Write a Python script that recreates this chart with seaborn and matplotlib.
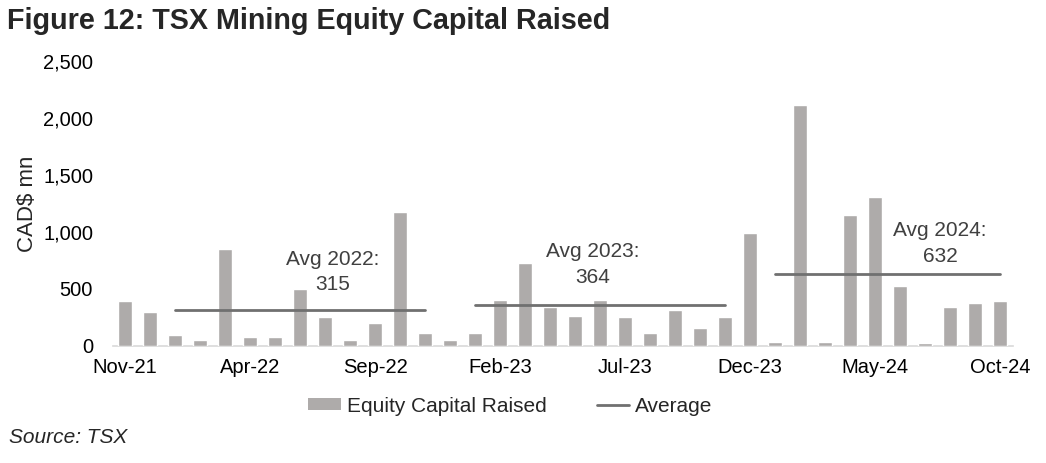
import pandas as pd
import matplotlib.pyplot as plt
import seaborn as sns
from matplotlib.patches import Patch
from matplotlib.lines import Line2D

# monthly equity capital raised, CAD$ mn (Nov-21 .. Oct-24)
months = pd.date_range('2021-11-01', '2024-10-01', freq='MS').strftime('%b-%y').tolist()
capital = [395, 298, 94, 50, 854, 82, 82, 497, 252, 50, 205, 1179,
           111, 50, 111, 407, 732, 346, 267, 407, 252, 111, 313, 158,
           252, 995, 32, 2111, 32, 1149, 1304, 530, 24, 346, 374, 392]

# yearly averages
avg_labels = ['Avg 2022:\n315', 'Avg 2023:\n364', 'Avg 2024:\n632']
avg_values = [315, 364, 632]
avg_start = ['Jan-22', 'Jan-23', 'Jan-24']
avg_end = ['Nov-22', 'Nov-23', 'Oct-24']

tick_labels = months[::5]

bar_color = '#AEABAA'
line_color = '#707070'

sns.set_style('white')
plt.rcParams['font.family'] = ['Liberation Sans', 'DejaVu Sans']

fig = plt.figure(figsize=(10.46, 4.63), dpi=100)
ax = fig.add_axes([0.1076, 0.2527, 0.8604, 0.6156])

df = pd.DataFrame({'month': months, 'capital': capital})
sns.barplot(data=df, x='month', y='capital', color=bar_color, saturation=1,
            width=0.56, errorbar=None, ax=ax, zorder=3)

# average lines, drawn on the category positions
text_pos = [(8.3, 650), (18.7, 715), (32.6, 900)]
for lab, val, s, e, (tx, ty) in zip(avg_labels, avg_values, avg_start, avg_end, text_pos):
    i0, i1 = months.index(s), months.index(e)
    ax.plot([i0, i1], [val, val], color=line_color, lw=2, zorder=4)
    ax.text(tx, ty, lab, ha='center', va='center', fontsize=15,
            color='#404040', linespacing=1.45)

ax.set_xlim(-0.5, len(months) - 0.5)
ax.set_ylim(0, 2500)
ax.set_yticks(range(0, 2501, 500))
ax.set_yticklabels([f'{v:,}' for v in range(0, 2501, 500)])
ax.set_xticks([months.index(m) for m in tick_labels])
ax.set_xticklabels(tick_labels)
ax.tick_params(axis='both', length=0, labelsize=14.5, colors='black')
ax.tick_params(axis='x', pad=9)
ax.tick_params(axis='y', pad=14)
ax.set_xlabel('')
ax.set_ylabel('CAD$ mn', fontsize=16, labelpad=4)

for side in ['top', 'right', 'left']:
    ax.spines[side].set_visible(False)
ax.spines['bottom'].set_color('#D9D9D9')
ax.spines['bottom'].set_linewidth(1.2)
ax.spines['bottom'].set_zorder(1)

handles = [Patch(facecolor=bar_color, edgecolor='none'),
           Line2D([0], [0], color=line_color, lw=2)]
fig.legend(handles, ['Equity Capital Raised', 'Average'], loc='center',
           bbox_to_anchor=(0.488, 0.123), ncol=2, frameon=False, fontsize=15,
           handlelength=1.55, handleheight=0.5, handletextpad=0.3,
           columnspacing=2.4)

fig.text(0.007, 0.955, 'Figure 12: TSX Mining Equity Capital Raised',
         fontsize=20.7, fontweight='bold', va='center', ha='left')
fig.text(0.009, 0.056, 'Source: TSX', fontsize=15, style='italic',
         va='center', ha='left')

fig.savefig('out.png', dpi=100)
